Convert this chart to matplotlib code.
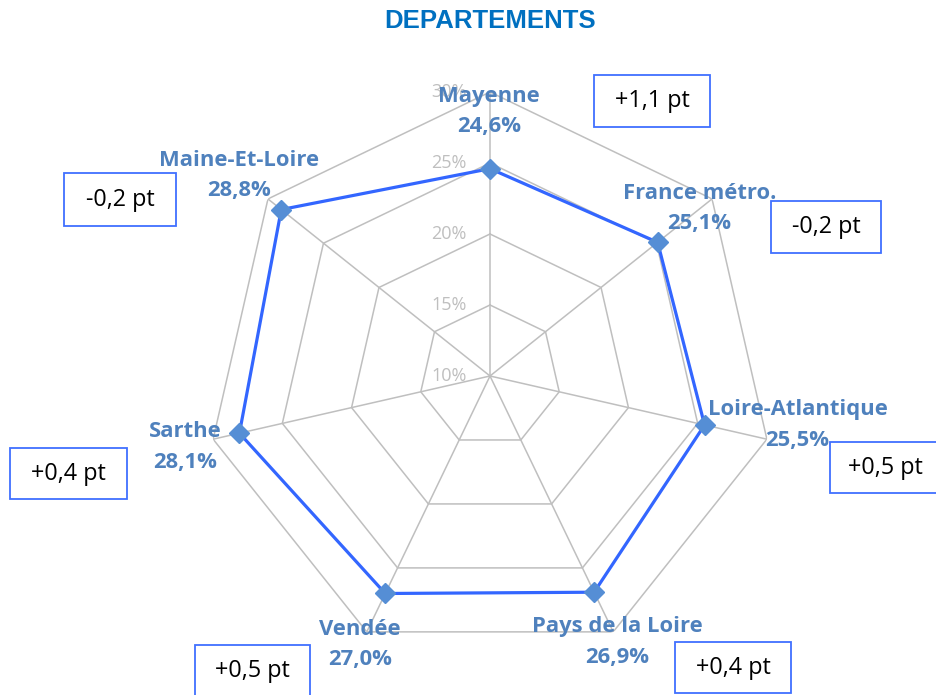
import numpy as np
import matplotlib
matplotlib.use("Agg")
import matplotlib.pyplot as plt
from matplotlib.patches import Rectangle

# --- data -------------------------------------------------------------
categories = ["Mayenne", "France métro.", "Loire-Atlantique", "Pays de la Loire",
              "Vendée", "Sarthe", "Maine-Et-Loire"]
rates = [24.6, 25.1, 25.5, 26.9, 27.0, 28.1, 28.8]          # %
evolution = [1.1, -0.2, 0.5, 0.4, 0.5, 0.4, -0.2]            # points
ring_ticks = [10, 15, 20, 25, 30]
r_min, r_max = 10, 30

# --- styles -----------------------------------------------------------
W, H, DPI = 936, 695, 100
GRID = "#BFBFBF"
LINE = "#3366FF"
MARK = "#558ED5"
LABEL = "#4F81BD"
BOX = "#4070FF"
TITLE = "#0070C0"
FONT = ["Open Sans", "DejaVu Sans"]


def fr(v, fmt):
    """French decimal comma."""
    return format(v, fmt).replace(".", ",")


fig = plt.figure(figsize=(W / DPI, H / DPI), dpi=DPI)
fig.patch.set_facecolor("white")

# radar centre at (490, 376) px, outer radius 284 px
cx, cy, R = 490, 376, 284
ax = fig.add_axes([(cx - R) / W, (H - cy - R) / H, 2 * R / W, 2 * R / H],
                  projection="polar")
ax.set_theta_offset(np.pi / 2)
ax.set_theta_direction(-1)
ax.set_ylim(r_min, r_max)
ax.grid(False)
ax.set_xticks([])
ax.set_yticks([])
ax.spines["polar"].set_visible(False)
ax.patch.set_alpha(0)

n = len(categories)
angles = np.linspace(0, 2 * np.pi, n, endpoint=False)
closed_angles = np.append(angles, angles[0])

# polygonal rings and spokes
for r in ring_ticks[1:]:
    ax.plot(closed_angles, [r] * (n + 1), color=GRID, lw=1.1, zorder=1)
for a in angles:
    ax.plot([a, a], [r_min, r_max], color=GRID, lw=1.1, zorder=1)

# ring value labels along the vertical spoke
for r in ring_ticks:
    ax.annotate(f"{r}%", xy=(0, r), xytext=(-23, 0), textcoords="offset pixels",
                ha="right", va="center", color=GRID, fontsize=13,
                family=FONT, zorder=2)

# series
vals = np.append(rates, rates[0])
ax.plot(closed_angles, vals, color=LINE, lw=2.3, zorder=3)
ax.plot(angles, rates, ls="none", marker="D", markersize=10.5,
        markerfacecolor=MARK, markeredgecolor=MARK, zorder=4)

# data labels (category + value)
label_offsets = [(-1, 57), (42, 34), (93, 0), (23, -50), (-25, -51), (-54, -14), (-42, 34)]
for a, cat, v, (dx, dy) in zip(angles, categories, rates, label_offsets):
    txt = f"{cat}\n{fr(v, '.1f')}%"
    ax.annotate(txt, xy=(a, v), xytext=(dx, dy), textcoords="offset pixels",
                ha="center", va="center", multialignment="center",
                color=LABEL, fontsize=15.8, fontweight="bold", family=FONT,
                linespacing=1.6, zorder=5, annotation_clip=False)

# evolution boxes (left, top, width, height in px)
boxes = [(594, 75, 116, 52), (771, 201, 110, 52), (830, 442, 110, 51),
         (675, 642, 116, 51), (195, 645, 115, 52), (10, 448, 117, 51),
         (64, 173, 112, 53)]
for (x0, y0, bw, bh), d in zip(boxes, evolution):
    fig.add_artist(Rectangle((x0 / W, 1 - (y0 + bh) / H), bw / W, bh / H,
                             transform=fig.transFigure, facecolor="white",
                             edgecolor=BOX, lw=1.3, zorder=6))
    fig.text((x0 + bw / 2) / W, 1 - (y0 + bh / 2) / H, fr(d, "+.1f") + " pt",
             ha="center", va="center", fontsize=16.8, color="black",
             family=FONT, zorder=7)

fig.text(cx / W, 1 - 21 / H, "DEPARTEMENTS", ha="center", va="center",
         fontsize=18.5, fontweight="bold", color=TITLE,
         family=["Liberation Sans", "DejaVu Sans"])

fig.savefig("out.png", dpi=DPI, facecolor="white")
